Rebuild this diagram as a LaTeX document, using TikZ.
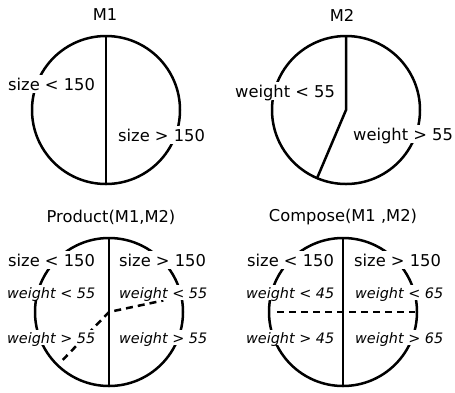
\documentclass[tikz,border=0pt]{standalone}
\usepackage{fontspec}
\setmainfont{DejaVu Sans}
\usepackage{tikz}
\usetikzlibrary{positioning,calc}

\begin{document}
\begin{tikzpicture}[
  x=1pt, y=-1pt,
  region/.style ={circle, draw, line width=2.5pt, minimum size=148pt, inner sep=0pt, outer sep=0pt},
  cut/.style    ={line width=2.5pt},
  dcut/.style   ={cut, dash pattern=on 7pt off 5pt},
  lbl/.style    ={fill=white, inner xsep=1pt, inner ysep=2.5pt, text depth=0pt, anchor=base west, font=\fontsize{16.3}{19}\selectfont},
  sublbl/.style ={lbl, inner ysep=2pt, font=\fontsize{14.4}{17}\selectfont\itshape},
  ttl/.style    ={font=\fontsize{16.3}{19}\selectfont},
]
\useasboundingbox (0,0) rectangle (455,392);

% the four partitions
\node[region] (m1)   at (106,110) {};
\node[region] (m2)   at (346,110) {};
\node[region] (prod) at (109,312) {};
\node[region] (comp) at (343,312) {};

% titles
\node[ttl] (m1t)   at (105,15)  {M1};
\node[ttl] (m2t)   at (342,15)  {M2};
\node[ttl] (prodt) at (111,217) {Product(M1,M2)};
\node[ttl] (compt) at (343,217) {Compose(M1 ,M2)};

% splits
\draw[cut] (m1.north) -- (m1.south);
\draw[cut] (m2.north) -- (m2.center) -- (m2.-113);
\draw[cut] (prod.north) -- (prod.south);
\draw[dcut] ($(prod.center)!0.9!(prod.-134)$) -- (prod.center) -- ($(prod.center)!0.75!(prod.12)$);
\draw[cut] (comp.north) -- (comp.south);
\draw[dcut] ($(comp.center)!0.89!(comp.west)$) -- ($(comp.center)!0.97!(comp.east)$);

% region labels
\node[lbl] (m1a) at (7,90)    {size < 150};
\node[lbl] (m1b) at (117,141) {size > 150};
\node[lbl] (m2a) at (234,97)  {weight < 55};
\node[lbl] (m2b) at (352,140) {weight > 55};

\node[lbl]    (prodl1) at (7,266)   {size < 150};
\node[sublbl] (prodl2) at (6,298)   {weight < 55};
\node[sublbl] (prodl3) at (6,343)   {weight > 55};
\node[lbl]    (prodr1) at (118,266) {size > 150};
\node[sublbl] (prodr2) at (118,298) {weight < 55};
\node[sublbl] (prodr3) at (118,343) {weight > 55};

\node[lbl]    (compl1) at (246,266) {size < 150};
\node[sublbl] (compl2) at (245,298) {weight < 45};
\node[sublbl] (compl3) at (245,343) {weight > 45};
\node[lbl]    (compr1) at (353,266) {size > 150};
\node[sublbl] (compr2) at (354,298) {weight < 65};
\node[sublbl] (compr3) at (354,343) {weight > 65};
\end{tikzpicture}
\end{document}
